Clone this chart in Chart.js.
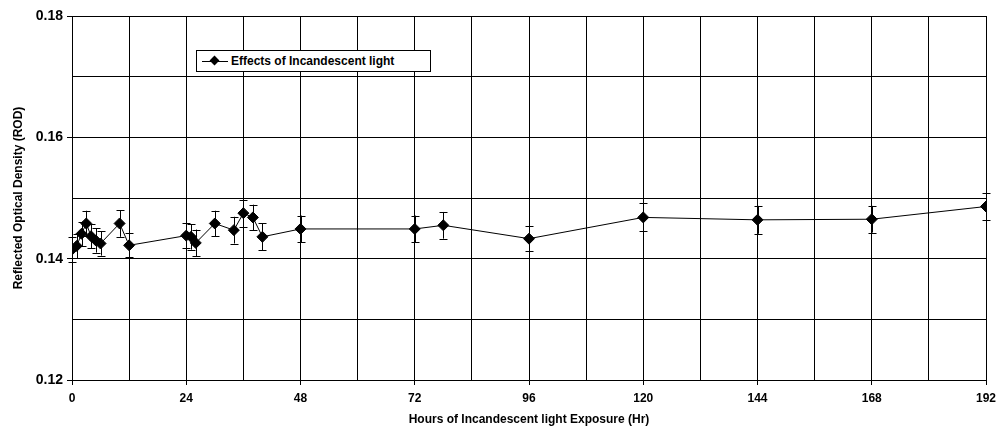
<!DOCTYPE html>
<html>
<head>
<meta charset="utf-8">
<script src="https://cdn.jsdelivr.net/npm/chart.js@4"></script>
<style>
    html, body { margin: 0; padding: 0; background: #fff; }
    #wrap { position: relative; width: 998px; height: 430px; }
    #legend {
        position: absolute; left: 196px; top: 50px; width: 233px; height: 20px;
        border: 1px solid #000; background: #fff;
        font: bold 12px 'Liberation Sans', Arial, sans-serif; color: #000;
        line-height: 20px; white-space: nowrap;
    }
    #legend .mark { position: absolute; left: 5px; top: 10px; width: 26px; height: 1px; background: #000; }
    #legend .dia {
        position: absolute; left: 14px; top: 6px; width: 7px; height: 7px;
        background: #000; transform: rotate(45deg);
    }
    #legend .txt { position: absolute; left: 34px; top: 0; }
</style>
</head>
<body>
<div id="wrap">
    <canvas id="chart" width="998" height="430"></canvas>
    <div id="legend"><span class="mark"></span><span class="dia"></span><span class="txt">Effects of Incandescent light</span></div>
</div>
<script>
// values
const hours = [0, 1, 2, 3, 4, 5, 6, 10, 12, 24, 25, 26, 30, 34, 36, 38, 40, 48, 72, 78, 96, 120, 144, 168, 192];
const rod = [0.1415, 0.1421, 0.1441, 0.1458, 0.1437, 0.1430, 0.1425, 0.1458, 0.1422, 0.1438, 0.1436, 0.1426, 0.1458,
    0.1447, 0.1475, 0.1468, 0.1436, 0.1449, 0.1449, 0.1455, 0.1433, 0.1468, 0.1464, 0.1465, 0.1486];
const rodErr = [0.0020, 0.0020, 0.0020, 0.0021, 0.0020, 0.0020, 0.0020, 0.0022, 0.0020, 0.0021, 0.0021, 0.0022, 0.0021,
    0.0022, 0.0022, 0.0021, 0.0022, 0.0022, 0.0022, 0.0022, 0.0021, 0.0023, 0.0023, 0.0022, 0.0022];
const xTickLabels = ['0', '24', '48', '72', '96', '120', '144', '168', '192'];
const yTickLabels = ['0.12', '0.14', '0.16', '0.18'];

const fontFamily = "'Liberation Sans', Arial, sans-serif";

const errorBars = {
    id: 'errorBars',
    afterDatasetsDraw(chart) {
        const ctx = chart.ctx;
        const xs = chart.scales.x, ys = chart.scales.y;
        ctx.save();
        ctx.strokeStyle = '#000';
        ctx.lineWidth = 1;
        hours.forEach((h, i) => {
            let x = Math.round(xs.getPixelForValue(h)) + 0.5;
            let top = ys.getPixelForValue(rod[i] + rodErr[i]);
            let bot = ys.getPixelForValue(rod[i] - rodErr[i]);
            ctx.beginPath();
            ctx.moveTo(x, top);
            ctx.lineTo(x, bot);
            ctx.moveTo(x - 4, Math.round(top) + 0.5);
            ctx.lineTo(x + 4, Math.round(top) + 0.5);
            ctx.moveTo(x - 4, Math.round(bot) + 0.5);
            ctx.lineTo(x + 4, Math.round(bot) + 0.5);
            ctx.stroke();
        })
        ctx.restore();
    }
};

var chart = new Chart(document.getElementById('chart'), {
    type: 'scatter',
    data: {
        datasets: [{
            label: 'Effects of Incandescent light',
            data: hours.map((h, i) => ({ x: h, y: rod[i] })),
            showLine: true,
            borderColor: '#000',
            borderWidth: 1,
            backgroundColor: '#000',
            pointStyle: 'rectRot',
            pointRadius: 5.5,
            pointBorderWidth: 1,
            tension: 0
        }]
    },
    options: {
        responsive: false,
        animation: false,
        layout: { padding: { left: 0, top: 16, right: 0, bottom: 0 } },
        plugins: {
            legend: { display: false },
            tooltip: { enabled: false }
        },
        scales: {
            x: {
                type: 'linear',
                min: 0,
                max: 192,
                afterFit: (scale) => {
                    scale.height = 50;
                    scale.paddingLeft = 0;
                    scale.paddingRight = 12;
                },
                grid: {
                    color: '#000',
                    lineWidth: 1,
                    tickLength: 5,
                    tickColor: (ctx) => xTickLabels.includes(String(ctx.tick.value)) ? '#000' : 'rgba(0,0,0,0)'
                },
                border: { color: '#000' },
                ticks: {
                    stepSize: 12,
                    maxRotation: 0,
                    autoSkip: false,
                    padding: 6,
                    color: '#000',
                    font: { family: fontFamily, size: 12, weight: 'bold' },
                    callback: (v) => xTickLabels.includes(String(v)) ? String(v) : ''
                },
                title: {
                    display: true,
                    text: 'Hours of Incandescent light Exposure (Hr)',
                    color: '#000',
                    font: { family: fontFamily, size: 12, weight: 'bold' },
                    padding: { top: 0, bottom: 3 }
                }
            },
            y: {
                min: 0.12,
                max: 0.18,
                afterFit: (scale) => { scale.width = 72; },
                grid: {
                    color: '#000',
                    lineWidth: 1,
                    tickLength: 5,
                    tickColor: (ctx) => Math.round(ctx.tick.value * 100) % 2 === 0 ? '#000' : 'rgba(0,0,0,0)'
                },
                border: { color: '#000' },
                ticks: {
                    stepSize: 0.01,
                    autoSkip: false,
                    padding: 4,
                    color: '#000',
                    font: { family: fontFamily, size: 14, weight: 'bold' },
                    callback: (v) => {
                        let s = v.toFixed(2);
                        return Math.round(v * 100) % 2 === 0 && yTickLabels.includes(s) ? s : '';
                    }
                },
                title: {
                    display: true,
                    text: 'Reflected Optical Density (ROD)',
                    color: '#000',
                    font: { family: fontFamily, size: 12, weight: 'bold' },
                    padding: { top: 11, bottom: 0 }
                }
            }
        }
    },
    plugins: [errorBars]
});
</script>
</body>
</html>
